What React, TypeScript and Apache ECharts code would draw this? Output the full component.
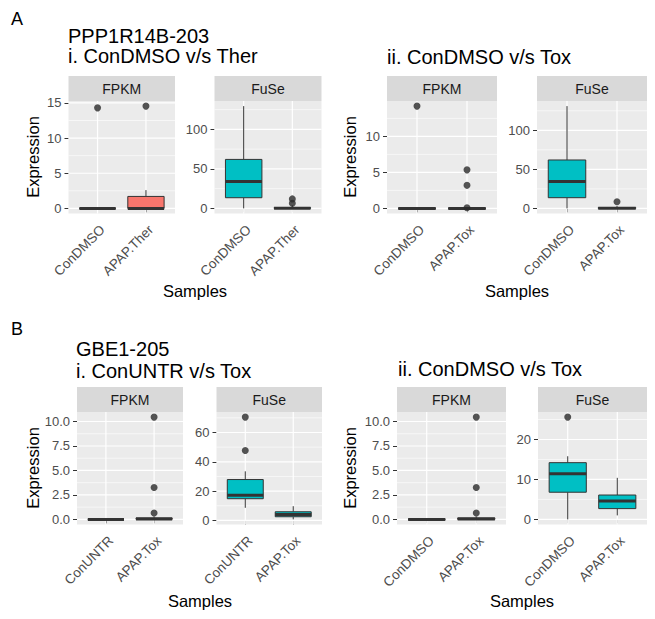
import React, { useEffect, useRef } from 'react';
import * as echarts from 'echarts';

// ---------- texts ----------
const panelLetters = ['A', 'B'];
const geneA = 'PPP1R14B-203';
const geneB = 'GBE1-205';
const titleAi = 'i. ConDMSO v/s Ther';
const titleAii = 'ii. ConDMSO v/s Tox';
const titleBi = 'i. ConUNTR v/s Tox';
const titleBii = 'ii. ConDMSO v/s Tox';
const facetNames = ['FPKM', 'FuSe'];
const yTitle = 'Expression';
const xTitle = 'Samples';

// ---------- categories ----------
const catsAi = ['ConDMSO', 'APAP.Ther'];
const catsAii = ['ConDMSO', 'APAP.Tox'];
const catsBi = ['ConUNTR', 'APAP.Tox'];
const catsBii = ['ConDMSO', 'APAP.Tox'];

// ---------- box stats: [min, q1, median, q3, max] per category ----------
const boxAiFpkm = [[0, 0, 0, 0, 0], [0, 0, 0, 1.7, 2.6]];
const outAiFpkm = [[14.3], [14.55]];
const boxAiFuse = [[0, 13.5, 34, 62, 129.5], [0, 0, 0.2, 1, 4]];
const outAiFuse = [[], [12, 6.5]];

const boxAiiFpkm = [[0, 0, 0, 0, 0], [0, 0, 0, 0, 0]];
const outAiiFpkm = [[14.2], [5.35, 3.2, 0.08]];
const boxAiiFuse = [[0, 13.7, 34.3, 62, 131], [0, 0, 0.2, 1, 3]];
const outAiiFuse = [[], [8.5]];

const boxBiFpkm = [[0, 0, 0, 0, 0], [0, 0, 0.05, 0.15, 0.3]];
const outBiFpkm = [[], [10.45, 3.25, 0.65]];
const boxBiFuse = [[8.6, 14.8, 17.2, 27.9, 33.5], [0.7, 2.5, 4.1, 5.9, 9.7]];
const outBiFuse = [[70.5, 47.7], []];

const boxBiiFpkm = [[0, 0, 0, 0, 0], [0, 0, 0.05, 0.15, 0.3]];
const outBiiFpkm = [[], [10.45, 3.25, 0.65]];
const boxBiiFuse = [[0, 6.8, 11.4, 14.2, 15.8], [1.0, 2.7, 4.6, 6.1, 10.4]];
const outBiiFuse = [[25.6], []];

// ---------- y tick values ----------
const ticksAiFpkm = [0, 5, 10, 15];
const ticksAiFuse = [0, 50, 100];
const ticksAiiFpkm = [0, 5, 10];
const ticksAiiFuse = [0, 50, 100];
const ticksBFpkm = [0, 2.5, 5, 7.5, 10];
const ticksBiFuse = [0, 20, 40, 60];
const ticksBiiFuse = [0, 10, 20];

const FONT = "'Liberation Sans', Arial, sans-serif";
const FILL_FPKM = '#F8766D';
const FILL_FUSE = '#00BFC4';

type Panel = {
  L: number; T: number; W: number; H: number;
  cats: string[]; box: number[][]; out: number[][]; ticks: number[];
  dec: number; fill: string; facet: string;
};

const panels: Panel[] = [
  { L: 68.5, T: 101, W: 106.5, H: 112.5, cats: catsAi, box: boxAiFpkm, out: outAiFpkm, ticks: ticksAiFpkm, dec: 0, fill: FILL_FPKM, facet: facetNames[0] },
  { L: 214.5, T: 101, W: 107, H: 112.5, cats: catsAi, box: boxAiFuse, out: outAiFuse, ticks: ticksAiFuse, dec: 0, fill: FILL_FUSE, facet: facetNames[1] },
  { L: 387, T: 101, W: 110, H: 112.5, cats: catsAii, box: boxAiiFpkm, out: outAiiFpkm, ticks: ticksAiiFpkm, dec: 0, fill: FILL_FPKM, facet: facetNames[0] },
  { L: 537, T: 101, W: 110, H: 112.5, cats: catsAii, box: boxAiiFuse, out: outAiiFuse, ticks: ticksAiiFuse, dec: 0, fill: FILL_FUSE, facet: facetNames[1] },
  { L: 77, T: 412, W: 106, H: 112.5, cats: catsBi, box: boxBiFpkm, out: outBiFpkm, ticks: ticksBFpkm, dec: 1, fill: FILL_FPKM, facet: facetNames[0] },
  { L: 216.5, T: 412, W: 105.5, H: 112.5, cats: catsBi, box: boxBiFuse, out: outBiFuse, ticks: ticksBiFuse, dec: 0, fill: FILL_FUSE, facet: facetNames[1] },
  { L: 397, T: 412, W: 109, H: 112.5, cats: catsBii, box: boxBiiFpkm, out: outBiiFpkm, ticks: ticksBFpkm, dec: 1, fill: FILL_FPKM, facet: facetNames[0] },
  { L: 538, T: 412, W: 109, H: 112.5, cats: catsBii, box: boxBiiFuse, out: outBiiFuse, ticks: ticksBiiFuse, dec: 0, fill: FILL_FUSE, facet: facetNames[1] },
];

function yRange(box: number[][], out: number[][]): [number, number] {
  const vals = box.flat().concat(out.flat());
  const mn = Math.min(...vals);
  const mx = Math.max(...vals);
  const pad = 0.05 * (mx - mn);
  return [mn - pad, mx + pad];
}

function minorTicks(ticks: number[], lo: number, hi: number): number[] {
  const step = ticks[1] - ticks[0];
  const res: number[] = [];
  for (let i = -1; i < ticks.length; i++) {
    const v = (i < 0 ? ticks[0] - step : ticks[i]) + step / 2;
    if (v > lo && v < hi) res.push(v);
  }
  return res;
}

function buildOption() {
  const grid: any[] = [];
  const xAxis: any[] = [];
  const yAxis: any[] = [];
  const series: any[] = [];
  const graphic: any[] = [];

  panels.forEach((p, i) => {
    const [lo, hi] = yRange(p.box, p.out);
    grid.push({
      left: p.L, top: p.T, width: p.W, height: p.H,
      show: true, backgroundColor: '#EBEBEB', borderWidth: 0,
      containLabel: false, outerBoundsMode: 'none',
    });
    xAxis.push({
      gridIndex: i, type: 'value', min: 0.4, max: 2.6,
      axisLine: { show: false }, splitLine: { show: false },
      axisTick: { show: true, customValues: [1, 2], length: 4, lineStyle: { color: '#333333', width: 1 } },
      axisLabel: {
        customValues: [1, 2],
        formatter: (v: number) => p.cats[Math.round(v) - 1] ?? '',
        rotate: 45, align: 'right', verticalAlign: 'top', margin: 9,
        fontSize: 13.5, color: '#4D4D4D', fontFamily: FONT,
      },
    });
    yAxis.push({
      gridIndex: i, type: 'value', min: lo, max: hi,
      axisLine: { show: false }, splitLine: { show: false },
      axisTick: { show: true, customValues: p.ticks, length: 4, lineStyle: { color: '#333333', width: 1 } },
      axisLabel: {
        customValues: p.ticks,
        formatter: (v: number) => v.toFixed(p.dec),
        margin: 7, fontSize: 13, color: '#4D4D4D', fontFamily: FONT,
      },
    });

    // grid lines (ggplot style)
    const gl: number[][] = [];
    minorTicks(p.ticks, lo, hi).forEach((v) => gl.push([0, v, 0.6]));
    p.ticks.forEach((v) => gl.push([0, v, 1.2]));
    [1, 2].forEach((v) => gl.push([1, v, 1.2]));
    series.push({
      type: 'custom', xAxisIndex: i, yAxisIndex: i, z: 1, silent: true,
      encode: { x: 0, y: 1 },
      data: gl,
      renderItem: (params: any, api: any) => {
        const cs = params.coordSys;
        const o = api.value(0);
        const v = api.value(1);
        const w = api.value(2);
        if (o === 0) {
          const pt = api.coord([1, v]);
          return { type: 'line', shape: { x1: cs.x, y1: pt[1], x2: cs.x + cs.width, y2: pt[1] }, style: { stroke: '#FFFFFF', lineWidth: w } };
        }
        const pt = api.coord([v, (lo + hi) / 2]);
        return { type: 'line', shape: { x1: pt[0], y1: cs.y, x2: pt[0], y2: cs.y + cs.height }, style: { stroke: '#FFFFFF', lineWidth: w } };
      },
    });

    // boxes
    series.push({
      type: 'custom', xAxisIndex: i, yAxisIndex: i, z: 2, silent: true,
      encode: { x: 0, y: [1, 2, 3, 4, 5] },
      data: p.box.map((b, k) => [k + 1, ...b]),
      renderItem: (params: any, api: any) => {
        const x = api.value(0);
        const pMin = api.coord([x, api.value(1)]);
        const pQ1 = api.coord([x, api.value(2)]);
        const pMed = api.coord([x, api.value(3)]);
        const pQ3 = api.coord([x, api.value(4)]);
        const pMax = api.coord([x, api.value(5)]);
        const half = api.size([0.75, 0])[0] / 2;
        const stroke = '#333333';
        return {
          type: 'group',
          children: [
            { type: 'line', shape: { x1: pMin[0], y1: pMin[1], x2: pQ1[0], y2: pQ1[1] }, style: { stroke, lineWidth: 1 } },
            { type: 'line', shape: { x1: pQ3[0], y1: pQ3[1], x2: pMax[0], y2: pMax[1] }, style: { stroke, lineWidth: 1 } },
            { type: 'rect', shape: { x: pQ1[0] - half, y: pQ3[1], width: half * 2, height: pQ1[1] - pQ3[1] }, style: { fill: p.fill, stroke, lineWidth: 1 } },
            { type: 'line', shape: { x1: pMed[0] - half, y1: pMed[1], x2: pMed[0] + half, y2: pMed[1] }, style: { stroke, lineWidth: 3 } },
          ],
        };
      },
    });

    // outliers
    const pts: number[][] = [];
    p.out.forEach((arr, k) => arr.forEach((v) => pts.push([k + 1, v])));
    series.push({
      type: 'scatter', xAxisIndex: i, yAxisIndex: i, z: 3, silent: true,
      symbol: 'circle', symbolSize: 7,
      itemStyle: { color: '#2B2B2B' },
      data: pts,
    });

    // strip
    graphic.push({
      type: 'rect', silent: true,
      shape: { x: p.L, y: p.T - 25, width: p.W, height: 25 },
      style: { fill: '#D9D9D9' },
    });
    graphic.push({
      type: 'text', silent: true,
      style: { text: p.facet, x: p.L + p.W / 2, y: p.T - 12.5, align: 'center', verticalAlign: 'middle', fontSize: 14, fill: '#1A1A1A', fontFamily: FONT },
    });
  });

  const txt = (text: string, x: number, y: number, size: number, align = 'left', rotation = 0) => ({
    type: 'text', silent: true, x, y, rotation,
    style: { text, x: 0, y: 0, align, verticalAlign: 'middle', fontSize: size, fill: '#000000', fontFamily: FONT },
  });

  graphic.push(txt(panelLetters[0], 11, 18.5, 18));
  graphic.push(txt(panelLetters[1], 11, 328.5, 18));
  graphic.push(txt(geneA, 68, 36, 20));
  graphic.push(txt(titleAi, 68, 56, 20));
  graphic.push(txt(titleAii, 387, 56.5, 20));
  graphic.push(txt(geneB, 76, 348.5, 20));
  graphic.push(txt(titleBi, 76, 370.5, 20));
  graphic.push(txt(titleBii, 398, 368.5, 20));

  // axis titles
  graphic.push(txt(yTitle, 33, 157, 16.5, 'center', Math.PI / 2));
  graphic.push(txt(yTitle, 350, 157, 16.5, 'center', Math.PI / 2));
  graphic.push(txt(yTitle, 33, 468, 16.5, 'center', Math.PI / 2));
  graphic.push(txt(yTitle, 350, 468, 16.5, 'center', Math.PI / 2));
  graphic.push(txt(xTitle, 195, 291, 16.5, 'center'));
  graphic.push(txt(xTitle, 517, 291, 16.5, 'center'));
  graphic.push(txt(xTitle, 200, 601, 16.5, 'center'));
  graphic.push(txt(xTitle, 522, 601, 16.5, 'center'));

  return {
    animation: false,
    backgroundColor: '#FFFFFF',
    grid, xAxis, yAxis, series, graphic,
  };
}

export default function App() {
  const ref = useRef<HTMLDivElement>(null);
  useEffect(() => {
    if (!ref.current) return;
    const chart = echarts.init(ref.current, null, { renderer: 'svg' });
    chart.setOption(buildOption() as any);
    return () => chart.dispose();
  }, []);
  return (
    <div
      ref={ref}
      style={{ position: 'fixed', left: 0, top: 0, width: 655, height: 619, background: '#FFFFFF' }}
    />
  );
}
